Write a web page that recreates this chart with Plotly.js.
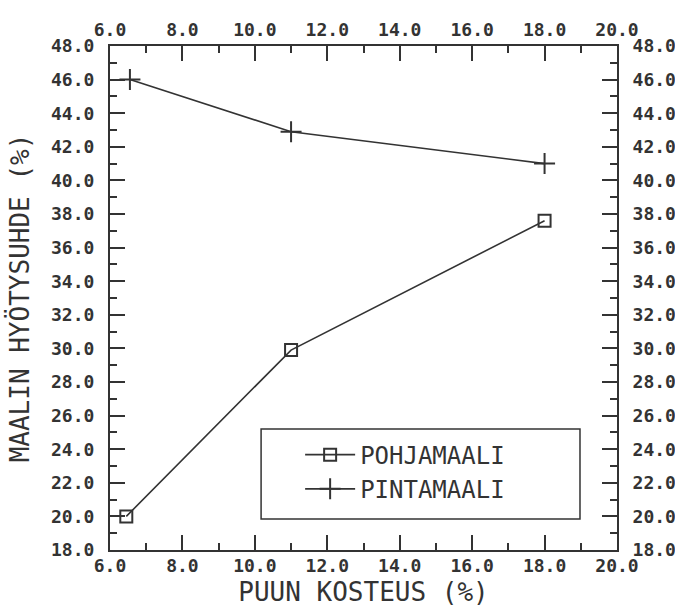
<!DOCTYPE html>
<html><head><meta charset="utf-8">
<script src="https://cdn.plot.ly/plotly-3.0.1.min.js"></script>
<style>html,body{margin:0;padding:0;background:#fff}#chart{width:675px;height:612px}</style>
</head><body><div id="chart"></div>
<script>
// ---- data ----
const seriesNames = ['POHJAMAALI', 'PINTAMAALI'];
const pohjaX = [6.45, 11.0, 18.0];
const pohjaY = [20.0, 29.9, 37.6];
const pintaX = [6.55, 11.0, 18.0];
const pintaY = [46.0, 42.9, 41.0];
const xRange = [6, 20];
const yRange = [18, 48];
const xTitle = 'PUUN KOSTEUS (%)';
const yTitle = 'MAALIN HYÖTYSUHDE (%)';

// ---- style ----
const ink = '#333333';
const mono = '"DejaVu Sans Mono", monospace';
const tickFont = {family: mono, size: 18, weight: 'bold', color: ink};
const titleFont = {family: mono, size: 26, color: ink};

function majorAxis(range, extra) {
  return Object.assign({
    range: range, tick0: range[0], dtick: 2, tickformat: '.1f',
    ticks: 'inside', ticklen: 15, tickwidth: 2, tickcolor: ink,
    showline: true, linecolor: ink, linewidth: 2,
    showgrid: false, zeroline: false,
    tickfont: tickFont, fixedrange: true
  }, extra);
}
function minorAxis(range, extra) {
  return Object.assign({
    range: range, tick0: range[0], dtick: 1,
    ticks: 'inside', ticklen: 7, tickwidth: 2, tickcolor: ink,
    showticklabels: false, showline: false,
    showgrid: false, zeroline: false, fixedrange: true
  }, extra);
}

const traces = [
  {x: pohjaX, y: pohjaY, name: seriesNames[0], type: 'scatter', mode: 'lines+markers',
   line: {color: ink, width: 1.6},
   marker: {symbol: 'square-open', size: 12, color: ink, line: {width: 2, color: ink}}},
  {x: pintaX, y: pintaY, name: seriesNames[1], type: 'scatter', mode: 'lines+markers',
   line: {color: ink, width: 1.6},
   marker: {symbol: 'cross-thin-open', size: 15, color: ink, line: {width: 2, color: ink}}},
  {x: [], y: [], xaxis: 'x2', yaxis: 'y2', showlegend: false, hoverinfo: 'skip'},
  {x: [], y: [], xaxis: 'x3', yaxis: 'y3', showlegend: false, hoverinfo: 'skip'},
  {x: [], y: [], xaxis: 'x4', yaxis: 'y4', showlegend: false, hoverinfo: 'skip'}
];

const layout = {
  width: 675, height: 612,
  margin: {l: 110, r: 58, t: 46, b: 62},
  paper_bgcolor: '#fff', plot_bgcolor: 'rgba(0,0,0,0)',
  xaxis: majorAxis(xRange, {ticklabelstandoff: -2, title: {text: xTitle, font: titleFont, standoff: 8}}),
  yaxis: majorAxis(yRange, {ticklabelstandoff: 10, title: {text: yTitle, font: titleFont, standoff: 14}}),
  xaxis2: majorAxis(xRange, {ticklabelstandoff: 1, overlaying: 'x', side: 'top', anchor: 'y2'}),
  yaxis2: majorAxis(yRange, {ticklabelstandoff: 10, overlaying: 'y', side: 'right', anchor: 'x2'}),
  xaxis3: minorAxis(xRange, {overlaying: 'x', side: 'bottom', anchor: 'y3'}),
  yaxis3: minorAxis(yRange, {overlaying: 'y', side: 'left', anchor: 'x3'}),
  xaxis4: minorAxis(xRange, {overlaying: 'x', side: 'top', anchor: 'y4'}),
  yaxis4: minorAxis(yRange, {overlaying: 'y', side: 'right', anchor: 'x4'}),
  showlegend: true,
  legend: {x: 0.375, y: 0.233, xanchor: 'left', yanchor: 'top',
           bgcolor: 'rgba(0,0,0,0)', borderwidth: 0, itemwidth: 50,
           font: {family: mono, size: 24, color: ink}},
  shapes: [{type: 'rect', xref: 'paper', yref: 'paper',
            x0: 0.298, x1: 0.927, y0: 0.0615, y1: 0.240,
            line: {color: ink, width: 1.5}}]
};

Plotly.newPlot('chart', traces, layout, {displayModeBar: false, staticPlot: true});
</script></body></html>
